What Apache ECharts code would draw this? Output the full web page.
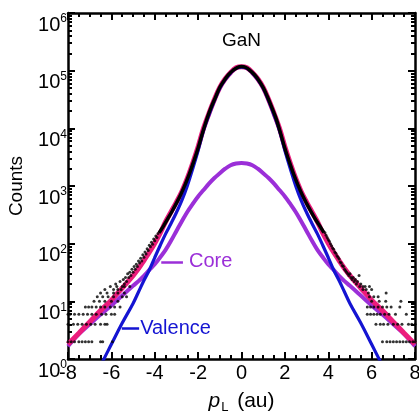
<!DOCTYPE html>
<html>
<head>
<meta charset="utf-8">
<script src="https://cdn.jsdelivr.net/npm/echarts@6/dist/echarts.min.js"></script>
<style>html,body{margin:0;padding:0;background:#fff}#chart{width:419px;height:413px}</style>
</head>
<body>
<div id="chart"></div>
<script>
// fitted profiles
var fitX = [-8,-7.5,-7,-6.5,-6,-5.5,-5,-4.75,-4.5,-4.25,-4,-3.75,-3.5,-3.25,-3,-2.75,-2.5,-2.25,-2,-1.75,-1.5,-1.25,-1,-0.75,-0.5,-0.25,0,
            0.25,0.5,0.75,1,1.25,1.5,1.75,2,2.25,2.5,2.75,3,3.25,3.5,3.75,4,4.25,4.5,4.75,5,5.5,6,6.5,7,7.5,8];
var totalY = [1.8,2.8,4.4,6.9,10.5,17,28,37,51,71,102,152,240,355,525,805,1350,2480,4790,10000,18200,31600,51300,72400,93300,112200,117500,
              112200,93300,72400,51300,31600,18200,10000,4790,2480,1350,805,525,355,240,152,102,71,51,37,28,17,10.5,6.9,4.4,2.8,1.8];
var valenceY = [0.05,0.12,0.3,0.76,1.8,4.2,9.2,14.5,23,35,57.5,93,148,224,347,562,1000,1995,4130,9150,17100,30200,49600,70400,91000,109700,115000,
                109700,91000,70400,49600,30200,17100,9150,4130,1995,1000,562,347,224,148,93,57.5,35,23,14.5,9.2,4.2,1.8,0.76,0.3,0.12,0.05];
var coreY = [1.66,2.7,4.0,5.9,8.5,12.6,18.6,22.4,27.5,35,44,58,78,112,166,245,355,490,660,850,1100,1380,1660,1995,2290,2455,2510,
             2455,2290,1995,1660,1380,1100,850,660,490,355,245,166,112,78,58,44,35,27.5,22.4,18.6,12.6,8.5,5.9,4.0,2.7,1.66];

// measured counts, central part
var measX = [-3.8,-3.6,-3.4,-3.2,-3,-2.8,-2.6,-2.4,-2.2,-2,-1.8,-1.6,-1.4,-1.2,-1,-0.8,-0.6,-0.4,-0.2,0,
             0.2,0.4,0.6,0.8,1,1.2,1.4,1.6,1.8,2,2.2,2.4,2.6,2.8,3,3.2,3.4,3.6,3.8];
var measY = [154,202,270,365,505,712,1055,1640,2690,4560,8300,14400,23000,34500,51500,67400,85300,100700,113200,117800,
             113600,100300,85000,67800,51000,34900,22800,14600,8200,4520,2660,1620,1045,705,500,362,268,205,155];

// measured counts, tails
var tailLeft = [
  [-3.85,150],[-3.9,128],[-3.95,136],[-4.0,112],[-4.05,120],[-4.1,98],[-4.15,106],[-4.2,88],[-4.25,94],[-4.3,76],
  [-4.35,82],[-4.4,66],[-4.45,72],[-4.5,58],[-4.55,64],[-4.6,50],[-4.65,56],[-4.7,46],[-4.75,50],[-4.8,40],
  [-4.85,44],[-4.9,36],[-4.95,40],[-5.0,32],[-5.05,36],[-5.1,28],[-5.15,32],[-5.2,26],[-5.25,30],[-5.3,22],
  [-5.35,26],[-5.4,20],[-5.45,24],[-5.5,18],[-5.6,22],[-5.7,16],[-5.8,20],
  [-6.05,18],[-5.75,18],[-5.4,18],[-5.15,18],
  [-6.3,16],[-5.9,16],[-5.55,16],
  [-6.5,14],[-6.2,14],[-5.9,14],[-5.7,14],[-5.4,14],
  [-6.65,12],[-6.4,12],[-6.15,12],[-5.9,12],[-5.5,12],[-5.3,12],
  [-6.8,10],[-6.55,10],[-6.3,10],[-6.0,10],[-5.7,10],
  [-7.2,8],[-7.05,8],[-6.9,8],[-6.7,8],[-6.5,8],[-6.3,8],[-6.05,8],[-5.85,8],[-5.6,8],
  [-8.0,6],[-7.9,6],[-7.7,6],[-7.5,6],[-7.3,6],[-7.1,6],[-6.9,6],[-6.7,6],[-6.45,6],[-6.25,6],[-6.0,6],[-5.85,6],
  [-8.0,4],[-7.75,4],[-7.55,4],[-7.35,4],[-7.15,4],[-6.95,4],[-6.75,4],[-6.5,4],[-6.3,4],[-6.2,4],
  [-8.0,2],[-7.85,2],[-7.7,2],[-7.5,2],[-7.35,2],[-7.2,2],[-7.05,2],[-6.9,2],[-6.5,2],[-6.4,2],[-5.95,2]
];
var tailRight = [
  [3.85,155],[3.9,140],[3.95,128],[4.0,118],[4.05,110],[4.1,100],[4.15,92],[4.2,84],[4.25,80],[4.3,72],
  [4.35,68],[4.4,62],[4.45,58],[4.5,54],[4.55,48],[4.6,46],[4.65,42],[4.7,40],[4.75,36],[4.8,34],
  [4.85,32],[4.9,30],[4.95,28],[5.0,30],[5.05,26],[5.1,24],[5.15,26],[5.2,22],[5.25,24],[5.3,20],
  [5.35,22],[5.42,28],[5.45,18],[5.5,20],[5.6,16],[5.7,18],
  [5.6,18],[5.9,18],[5.75,16],[6.0,16],[5.85,14],[6.67,14],[5.9,12],[6.1,12],[6.3,12],
  [6.0,10],[6.35,10],[6.65,10],[7.35,10],
  [5.8,8],[5.95,8],[6.1,8],[6.3,8],[6.5,8],[6.7,8],[6.9,8],[7.3,8],
  [5.8,6],[5.95,6],[6.1,6],[6.25,6],[6.4,6],[6.6,6],[6.8,6],[7.1,6],[7.6,6],
  [6.2,4],[6.4,4],[6.55,4],[6.75,4],[7.0,4],[7.2,4],[7.4,4],[7.7,4],[7.85,4],[8.0,4],
  [6.5,2],[6.7,2],[6.85,2],[7.0,2],[7.15,2],[7.3,2],[7.45,2],[7.6,2],[7.75,2],[7.9,2],[8.0,2]
];

var yMajorTicks = [1,10,100,1000,10000,100000,1000000];
var yMinorTicks = [];
for (var k = 0; k < 6; k++) { for (var m = 2; m <= 9; m++) { yMinorTicks.push(m * Math.pow(10, k)); } }

var font = '"Liberation Sans", Arial, sans-serif';
var pink = '#ec1c7c', purple = '#9b2fd8', blue = '#1414d2';

function zip(xs, ys) { return xs.map(function (x, i) { return [x, ys[i]]; }); }

function xAx(pos, showLabel) {
  return {
    type: 'value', position: pos, min: -8, max: 8, interval: 2,
    axisLine: {show: true, onZero: false, lineStyle: {color: '#000', width: 2.5}},
    axisTick: {show: true, inside: true, length: 7, lineStyle: {color: '#000', width: 2}},
    minorTick: {show: true, splitNumber: 4, length: 4, lineStyle: {color: '#000', width: 2}},
    splitLine: {show: false},
    axisLabel: {show: showLabel, fontSize: 20, color: '#000', fontFamily: font, margin: 4},
    name: showLabel ? '{i|p}{s|L} (au)' : '',
    nameLocation: 'middle', nameGap: 28,
    nameTextStyle: {fontSize: 21, lineHeight: 26, color: '#000', fontFamily: font,
      rich: {i: {fontSize: 21, lineHeight: 26, fontStyle: 'italic', fontFamily: font, color: '#000'},
             s: {fontSize: 13, lineHeight: 13, fontFamily: font, color: '#000', verticalAlign: 'bottom', padding: [0, 3, 0, 1]}}}
  };
}
function yAx(pos, minor, showLabel) {
  return {
    type: 'log', logBase: 10, position: pos, min: 1, max: 1000000,
    axisLine: {show: !minor, onZero: false, lineStyle: {color: '#000', width: 2.5}},
    axisTick: {show: true, inside: true, length: minor ? 4 : 7, customValues: minor ? yMinorTicks : yMajorTicks,
               lineStyle: {color: '#000', width: 2}},
    splitLine: {show: false},
    axisLabel: {show: showLabel, customValues: yMajorTicks, margin: 1, verticalAlign: 'top',
      formatter: function (v) { return '{b|10}{s|' + Math.round(Math.log10(v)) + '}'; },
      rich: {b: {fontSize: 20, lineHeight: 24, color: '#000', fontFamily: font},
             s: {fontSize: 12, lineHeight: 10, verticalAlign: 'top', color: '#000', fontFamily: font}}},
    name: showLabel ? 'Counts' : '',
    nameLocation: 'middle', nameGap: 42,
    nameTextStyle: {fontSize: 19, color: '#000', fontFamily: font}
  };
}

var chart = echarts.init(document.getElementById('chart'));
chart.setOption({
  animation: false,
  backgroundColor: '#fff',
  grid: {left: 68, right: 4, top: 13, bottom: 54, containLabel: false, outerBoundsMode: 'none'},
  graphic: [{type: 'text', left: 222, top: 31, style: {text: 'GaN', fontSize: 19, fontFamily: font, fill: '#000'}}],
  xAxis: [xAx('bottom', true), xAx('top', false)],
  yAxis: [yAx('left', false, true), yAx('left', true, false), yAx('right', false, false), yAx('right', true, false)],
  series: [
    {type: 'line', name: 'Core', data: zip(fitX, coreY), smooth: 0.4, showSymbol: false, z: 2,
     lineStyle: {color: purple, width: 4},
     markLine: {silent: true, symbol: ['none', 'none'], lineStyle: {color: purple, width: 2.5, type: 'solid'},
       label: {show: true, position: 'end', formatter: 'Core', color: purple, fontSize: 20, fontFamily: font, distance: 6},
       data: [[{coord: [-3.7, 48.5]}, {coord: [-2.7, 48.5]}]]}},
    {type: 'line', name: 'Total', data: zip(fitX, totalY), smooth: 0.4, showSymbol: false, z: 3,
     lineStyle: {color: pink, width: 5}},
    {type: 'line', name: 'Valence', data: zip(fitX, valenceY), smooth: 0.4, showSymbol: false, z: 4,
     lineStyle: {color: blue, width: 3.2},
     markLine: {silent: true, symbol: ['none', 'none'], lineStyle: {color: blue, width: 2.5, type: 'solid'},
       label: {show: true, position: 'end', formatter: 'Valence', color: blue, fontSize: 20, fontFamily: font, distance: 1},
       data: [[{coord: [-5.52, 3.4]}, {coord: [-4.72, 3.4]}]]}},
    {type: 'line', name: 'Measured', data: zip(measX, measY), smooth: 0.4, showSymbol: false, z: 5,
     lineStyle: {color: '#000', width: 3.5}},
    {type: 'scatter', name: 'Measured tails', data: tailLeft.concat(tailRight), symbolSize: 3, z: 6,
     itemStyle: {color: '#000'}}
  ]
});
</script>
</body>
</html>
